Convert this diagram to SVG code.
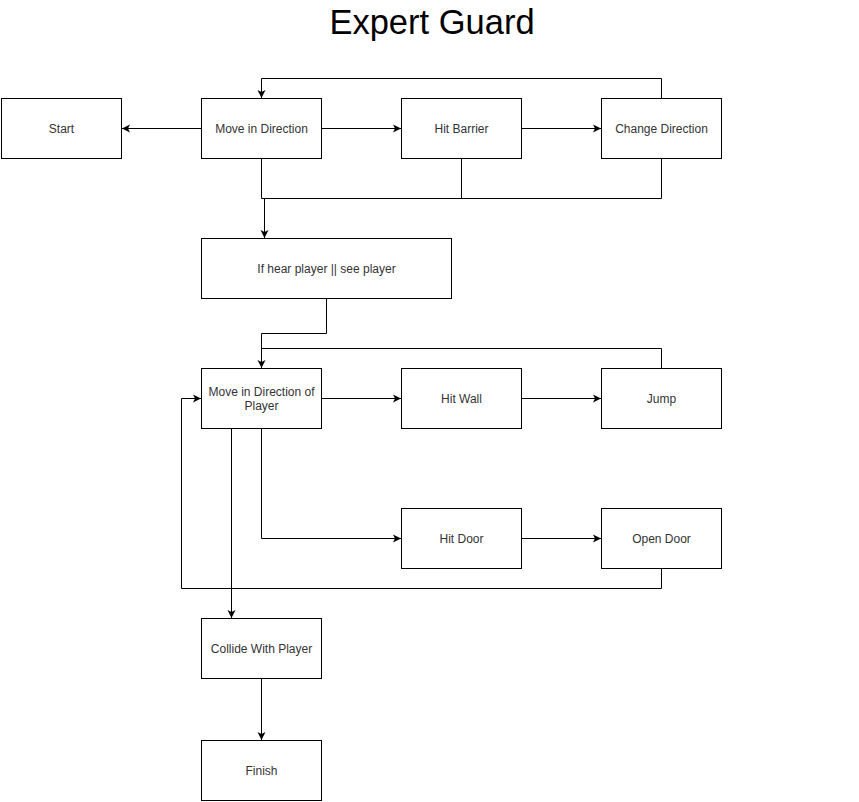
<svg xmlns="http://www.w3.org/2000/svg" width="859" height="802" viewBox="0 0 859 802">
<style>
.box{fill:#fff;stroke:#000;stroke-width:1}
.lbl{font-family:"Liberation Sans",Arial,sans-serif;font-size:12px;fill:#333;text-anchor:middle}
.edge{fill:none;stroke:#000;stroke-width:1}
</style>
<defs>
<marker id="arr" markerWidth="9" markerHeight="9" refX="8" refY="4.5" orient="auto" markerUnits="userSpaceOnUse">
<path d="M0,0.5 L8,4.5 L0,8.5 L2,4.5 Z" fill="#000"/>
</marker>
</defs>
<rect width="859" height="802" fill="#fff"/>
<text x="432" y="34" font-family="Liberation Sans,Arial,sans-serif" font-size="34.5" text-anchor="middle" fill="#000">Expert Guard</text>
<g id="connectors">
<path class="edge" d="M201.5,128.5 H122" marker-end="url(#arr)"/>
<path class="edge" d="M321.5,128.5 H401" marker-end="url(#arr)"/>
<path class="edge" d="M521.5,128.5 H601" marker-end="url(#arr)"/>
<path class="edge" d="M661.5,98.5 V78.5 H261.5 V98" marker-end="url(#arr)"/>
<path class="edge" d="M261.5,158.5 V198.5 H661.5 V158.5"/>
<path class="edge" d="M461.5,158.5 V198.5"/>
<path class="edge" d="M264.5,198.5 V238" marker-end="url(#arr)"/>
<path class="edge" d="M326.5,298.5 V333.5 H261.5 V368" marker-end="url(#arr)"/>
<path class="edge" d="M661.5,368.5 V348.5 H261.5"/>
<path class="edge" d="M321.5,398.5 H401" marker-end="url(#arr)"/>
<path class="edge" d="M521.5,398.5 H601" marker-end="url(#arr)"/>
<path class="edge" d="M261.5,428.5 V538.5 H401" marker-end="url(#arr)"/>
<path class="edge" d="M521.5,538.5 H601" marker-end="url(#arr)"/>
<path class="edge" d="M661.5,568.5 V588.5 H181.5 V398.5 H201" marker-end="url(#arr)"/>
<path class="edge" d="M231.5,428.5 V618" marker-end="url(#arr)"/>
<path class="edge" d="M261.5,678.5 V740" marker-end="url(#arr)"/>
</g>
<g id="start"><rect class="box" x="1.5" y="98.5" width="120" height="60"/><text class="lbl" x="61.5" y="132.5">Start</text></g>
<g id="move"><rect class="box" x="201.5" y="98.5" width="120" height="60"/><text class="lbl" x="261.5" y="132.5">Move in Direction</text></g>
<g id="hitbarrier"><rect class="box" x="401.5" y="98.5" width="120" height="60"/><text class="lbl" x="461.5" y="132.5">Hit Barrier</text></g>
<g id="changedir"><rect class="box" x="601.5" y="98.5" width="120" height="60"/><text class="lbl" x="661.5" y="132.5">Change Direction</text></g>
<g id="ifhear"><rect class="box" x="201.5" y="238.5" width="250" height="60"/><text class="lbl" x="326.5" y="272.5">If hear player || see player</text></g>
<g id="moveplayer"><rect class="box" x="201.5" y="368.5" width="120" height="60"/><text class="lbl" x="261.5" y="395.5">Move in Direction of</text><text class="lbl" x="261.5" y="409.5">Player</text></g>
<g id="hitwall"><rect class="box" x="401.5" y="368.5" width="120" height="60"/><text class="lbl" x="461.5" y="402.5">Hit Wall</text></g>
<g id="jump"><rect class="box" x="601.5" y="368.5" width="120" height="60"/><text class="lbl" x="661.5" y="402.5">Jump</text></g>
<g id="hitdoor"><rect class="box" x="401.5" y="508.5" width="120" height="60"/><text class="lbl" x="461.5" y="542.5">Hit Door</text></g>
<g id="opendoor"><rect class="box" x="601.5" y="508.5" width="120" height="60"/><text class="lbl" x="661.5" y="542.5">Open Door</text></g>
<g id="collide"><rect class="box" x="201.5" y="618.5" width="120" height="60"/><text class="lbl" x="261.5" y="652.5">Collide With Player</text></g>
<g id="finish"><rect class="box" x="201.5" y="740.5" width="120" height="60"/><text class="lbl" x="261.5" y="774.5">Finish</text></g>
</svg>
